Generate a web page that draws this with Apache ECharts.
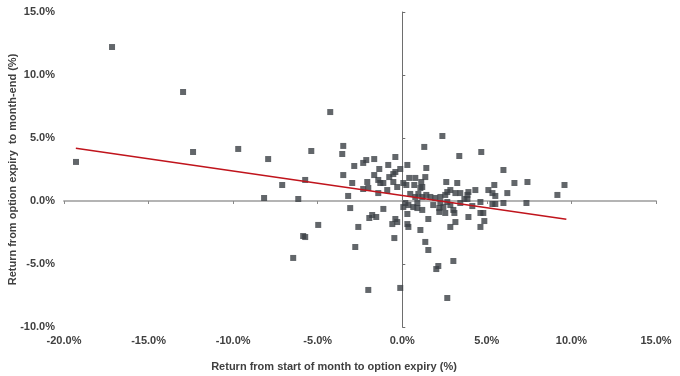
<!DOCTYPE html>
<html>
<head>
<meta charset="utf-8">
<script src="https://cdn.jsdelivr.net/npm/echarts@6/dist/echarts.min.js"></script>
<style>
html,body{margin:0;padding:0;background:#fff;}
#c{width:680px;height:376px;}
</style>
</head>
<body>
<div id="c"></div>
<script>
// Return from start of month to option expiry (%)
const retToExpiry = [
 -19.29,-17.16,-12.96,-12.37,-9.70,-8.17,-7.93,-7.10,-6.15,-5.74,
 -5.38,-4.26,-6.45,-5.86,-5.74,-4.97,-3.49,-3.55,-3.49,-3.20,
 -3.08,-2.96,-2.84,-2.60,-2.78,-2.31,-2.13,-1.66,-1.66,-1.36,
 -2.07,-1.42,-1.30,-1.12,-0.83,-0.41,-0.77,-0.53,-0.41,-0.12,
 -0.53,-0.30,-2.31,-2.01,-1.42,-0.89,-1.12,-1.95,-1.78,-1.54,
 -0.59,-0.41,-0.30,-0.47,-2.01,-0.12,0.06,0.24,0.30,0.41,
 0.77,0.71,1.12,1.18,1.30,1.42,1.36,2.37,2.60,3.25,
 3.37,4.67,5.98,5.44,6.63,7.40,9.59,9.17,6.21,7.34,
 5.98,5.50,5.33,5.50,5.09,5.33,4.62,4.32,4.14,3.85,
 3.91,3.67,3.43,3.14,2.84,2.66,2.54,2.25,1.95,1.66,
 1.42,1.18,1.07,0.47,0.77,0.65,0.89,1.18,1.83,2.25,
 2.66,2.43,0.89,0.36,0.18,0.06,0.30,0.30,0.36,1.07,
 1.54,1.36,1.54,2.01,2.13,3.02,2.66,2.84,3.14,3.08,
 2.54,2.19,3.91,4.62,4.79,4.85,4.62,2.84,3.02,3.43,
 3.85,2.19,0.95
];
// Return from option expiry to month-end (%)
const retToMonthEnd = [
 3.10,12.22,8.65,3.89,4.13,0.24,3.33,1.27,0.16,1.67,
 3.97,7.06,-4.52,-2.78,-2.86,-1.90,4.37,3.73,2.06,0.40,
 -0.56,1.43,2.78,-2.06,-3.65,3.02,3.25,3.33,2.06,2.54,
 1.51,1.67,1.43,1.43,2.86,3.49,1.90,2.14,2.30,2.54,
 1.51,1.11,0.95,1.03,0.63,0.87,-0.63,-1.35,-1.11,-1.27,
 -1.83,-1.43,-1.67,-2.94,-7.06,-6.90,1.43,1.27,2.86,1.83,
 1.83,1.27,1.51,1.11,4.29,2.62,1.90,5.16,1.51,1.43,
 3.57,3.89,2.46,1.27,1.43,1.51,1.27,0.48,0.63,-0.16,
 -0.16,-0.24,-0.24,0.40,0.87,0.63,-0.08,0.87,-0.40,0.48,
 0.71,0.16,0.63,0.63,0.87,0.71,0.48,0.32,0.24,0.32,
 0.48,0.32,1.03,0.56,0.32,-0.48,-0.56,-0.71,-0.32,-0.16,
 -0.08,-0.48,-0.16,-0.32,-0.16,-0.48,-1.03,-1.83,-2.06,-2.30,
 -1.43,-3.25,-3.89,-5.40,-5.16,-4.76,-7.70,-2.06,-1.67,-0.95,
 -0.95,-0.87,-1.27,-0.95,-0.95,-1.59,-2.06,-0.32,-0.71,-0.16,
 0.16,-0.56,0.56
];
// Trend line end points [x, y]
const trendX = [-19.3, 9.7];
const trendY = [4.18, -1.45];

const xMin = -20, xMax = 15, xStep = 5;
const yMin = -10, yMax = 15, yStep = 5;

const pts = retToExpiry.map((x, i) => [x, retToMonthEnd[i]]);
const trend = trendX.map((x, i) => [x, trendY[i]]);

const fmt = v => v.toFixed(1) + '%';
const font = 'Arial, "Liberation Sans", sans-serif';
const txtColor = '#404040';

const chart = echarts.init(document.getElementById('c'), null, {renderer: 'canvas'});
chart.setOption({
  animation: false,
  grid: {left: 64, right: 24, top: 12, bottom: 49, containLabel: false, outerBoundsMode: 'none'},
  xAxis: [
    {
      type: 'value', min: xMin, max: xMax, interval: xStep, position: 'bottom',
      axisLine: {show: false, onZero: false},
      axisTick: {show: false},
      splitLine: {show: false},
      axisLabel: {formatter: fmt, color: txtColor, fontSize: 11, fontFamily: font, fontWeight: 'bold', margin: 8},
      name: 'Return from start of month to option expiry (%)',
      nameLocation: 'middle', nameGap: 34, nameMoveOverlap: false,
      nameTextStyle: {color: txtColor, fontSize: 11, fontFamily: font, fontWeight: 'bold', padding: [0, 52, 0, 0]}
    },
    {
      type: 'value', min: xMin, max: xMax, interval: xStep, position: 'top',
      axisLine: {show: true, onZero: true, lineStyle: {color: '#b4b4b4', width: 2}},
      axisTick: {show: true, inside: true, length: 3, lineStyle: {color: '#8a8a8a', width: 1}},
      axisLabel: {show: false},
      splitLine: {show: false}
    }
  ],
  yAxis: [
    {
      type: 'value', min: yMin, max: yMax, interval: yStep, position: 'left',
      axisLine: {show: false, onZero: false},
      axisTick: {show: false},
      splitLine: {show: false},
      axisLabel: {formatter: fmt, color: txtColor, fontSize: 11, fontFamily: font, fontWeight: 'bold', margin: 9},
      name: 'Return from option expiry  to month-end (%)',
      nameLocation: 'middle', nameGap: 46, nameMoveOverlap: false,
      nameTextStyle: {color: txtColor, fontSize: 11, fontFamily: font, fontWeight: 'bold'}
    },
    {
      type: 'value', min: yMin, max: yMax, interval: yStep, position: 'right',
      axisLine: {show: true, onZero: true, lineStyle: {color: '#6e6e6e', width: 1}},
      axisTick: {show: true, length: 3, lineStyle: {color: '#6e6e6e', width: 1}},
      axisLabel: {show: false},
      splitLine: {show: false}
    }
  ],
  series: [
    {
      type: 'scatter', xAxisIndex: 0, yAxisIndex: 0,
      data: pts, symbol: 'rect', symbolSize: 6,
      itemStyle: {color: '#3b4045'}
    },
    {
      type: 'line', xAxisIndex: 0, yAxisIndex: 0,
      data: trend, symbol: 'none',
      lineStyle: {color: '#c0141c', width: 1.5}
    }
  ]
});
</script>
</body>
</html>
